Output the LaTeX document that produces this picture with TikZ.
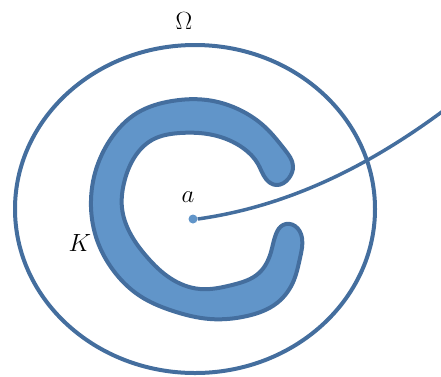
\documentclass[tikz,border=0pt]{standalone}
\usepackage{tikz}
\usetikzlibrary{hobby}
\definecolor{edgeblue}{RGB}{68,110,158}
\definecolor{fillblue}{RGB}{97,149,201}
\tikzset{
  outline/.style={draw=edgeblue, line width=4pt},
  lbl/.style={inner sep=0pt, font=\fontsize{28}{33}\selectfont},
}
\begin{document}
\begin{tikzpicture}[x=1pt,y=-1pt]
\useasboundingbox (0,0) rectangle (441,376);
% domain Omega
\draw[outline] (195,209) ellipse [x radius=180, y radius=164];
% compact set K (C shape)
\draw[outline, fill=fillblue, line join=round, use Hobby shortcut, closed=true]
 (293,166) .. (285,150) .. (265,127) .. (240,110) .. (207,100) .. (172,101) .. (137,113)
 .. (110,140) .. (95,173) .. (91,207) .. (97,240) .. (113,270) .. (140,296) .. (173,311)
 .. (210,319) .. (247,316) .. (277,303) .. (294,280) .. (300,258) .. (302,238) .. (295,226)
 .. (283,225) .. (276,234) .. (271,252) .. (259,273) .. (232,285) .. (200,289) .. (170,278)
 .. (147,257) .. (130,233) .. (122,208) .. (124,183) .. (134,158) .. (152,140) .. (180,133)
 .. (213,135) .. (243,148) .. (258,164) .. (266,179) .. (276,185) .. (289,178);
% point a and curve
\coordinate (e) at (443,111);
\node[circle, fill=fillblue, inner sep=0pt, minimum size=9pt] (a) at (193,219) {};
\draw[edgeblue, line width=3.5pt] (a.east) .. controls (290,206) and (370,165) .. (e);
% labels
\node[lbl] (om) at (184,21) {$\Omega$};
\node[lbl] (al) at (188,197) {$a$};
\node[lbl] (kl) at (80,243) {$K$};
\end{tikzpicture}
\end{document}
